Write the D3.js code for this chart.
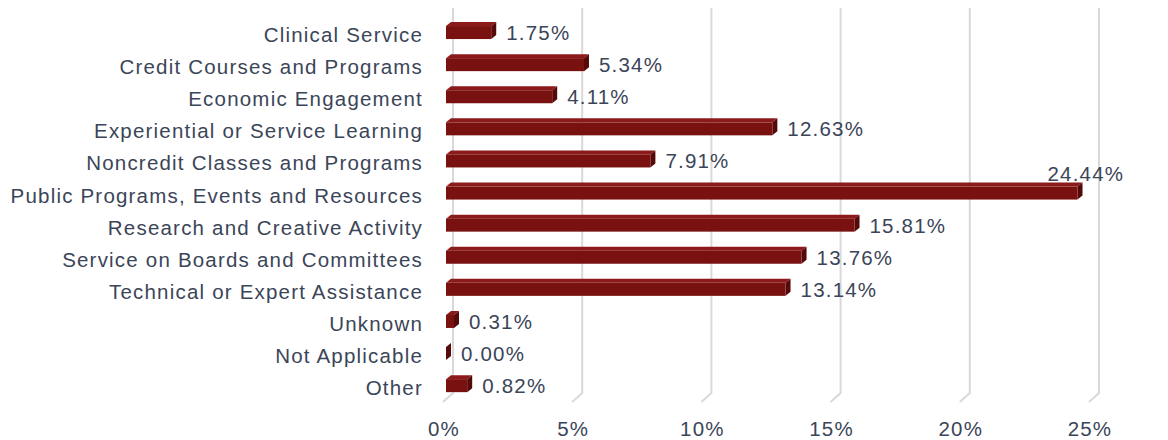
<!DOCTYPE html>
<html lang="en">
<head>
<meta charset="utf-8">
<title>Engagement by category</title>
<script src="https://cdn.jsdelivr.net/npm/d3@7"></script>
<style>
    body { margin: 0; background: #fff; }
    text { font-family: "Liberation Sans", Arial, sans-serif; fill: #3b4558; letter-spacing: 1.2px; }
    .grid { stroke: #d9d9d9; stroke-width: 2; fill: none; }
</style>
</head>
<body>
<svg id="chart" width="1168" height="440"></svg>
<script>
// data
var categories = ["Clinical Service", "Credit Courses and Programs", "Economic Engagement",
    "Experiential or Service Learning", "Noncredit Classes and Programs",
    "Public Programs, Events and Resources", "Research and Creative Activity",
    "Service on Boards and Committees", "Technical or Expert Assistance",
    "Unknown", "Not Applicable", "Other"]
var values = [1.75, 5.34, 4.11, 12.63, 7.91, 24.44, 15.81, 13.76, 13.14, 0.31, 0.00, 0.82]
var ticks = [0, 5, 10, 15, 20, 25]

var svg = d3.select("#chart")
var fs = 20.5

// front floor edge, the back wall sits up and to the right of it
var x = d3.scaleLinear().domain([0, 25]).range([443, 1089])
var y = d3.scaleBand().domain(categories).range([14.5, 399.7])
var floorY = 402
var back = {dx: 10, dy: -9}
var bar = {x0: 3, dx: 5, dy: -4, h: 13}

// gridlines on the back wall with a jog down across the floor
svg.append("g").selectAll("path")
    .data(ticks)
    .enter().append("path")
    .attr("class", "grid")
    .attr("d", function (d) {
        var xb = x(d) + back.dx
        return "M" + xb + ",8 L" + xb + "," + (floorY + back.dy) + " L" + x(d) + "," + floorY
    })

// tick labels
svg.append("g").selectAll("text")
    .data(ticks)
    .enter().append("text")
    .attr("x", function (d) { return x(d) + 1 })
    .attr("y", 428)
    .attr("text-anchor", "middle")
    .attr("dominant-baseline", "central")
    .attr("font-size", fs)
    .text(function (d) { return d + "%" })

// category labels
svg.append("g").selectAll("text")
    .data(categories)
    .enter().append("text")
    .attr("x", 423)
    .attr("y", function (d) { return y(d) + y.bandwidth() / 2 + 4 })
    .attr("text-anchor", "end")
    .attr("dominant-baseline", "central")
    .attr("font-size", fs)
    .text(function (d) { return d })

// 3d bars: front, top and right side
var bars = svg.append("g").selectAll("g")
    .data(values)
    .enter().append("g")

function frontTop(i) { return y(categories[i]) + y.bandwidth() / 2 - 4.5 }

bars.append("path")
    .attr("fill", "#8c1a1a")
    .attr("d", function (d, i) {
        var x0 = x(0) + bar.x0, x1 = x(d) + bar.x0, t = frontTop(i)
        return "M" + x0 + "," + t + " L" + (x0 + bar.dx) + "," + (t + bar.dy) +
            " L" + (x1 + bar.dx) + "," + (t + bar.dy) + " L" + x1 + "," + t + "Z"
    })

bars.append("path")
    .attr("fill", "#560909")
    .attr("d", function (d, i) {
        var x1 = x(d) + bar.x0, t = frontTop(i)
        return "M" + x1 + "," + t + " L" + (x1 + bar.dx) + "," + (t + bar.dy) +
            " L" + (x1 + bar.dx) + "," + (t + bar.dy + bar.h) + " L" + x1 + "," + (t + bar.h) + "Z"
    })

bars.append("rect")
    .attr("fill", "#7a1111")
    .attr("x", x(0) + bar.x0)
    .attr("y", function (d, i) { return frontTop(i) })
    .attr("width", function (d) { return Math.max(x(d) - x(0), 0) })
    .attr("height", bar.h)

// value labels, the longest one sits above its bar
bars.append("text")
    .attr("font-size", fs)
    .attr("dominant-baseline", "central")
    .attr("x", function (d) {
        var xe = x(d) + bar.x0 + bar.dx
        return xe + 10 > 1040 ? xe - 35 : xe + 10
    })
    .attr("y", function (d, i) {
        var c = y(categories[i]) + y.bandwidth() / 2 + 2
        return x(d) + 15 > 1040 ? c - 20 : c
    })
    .text(function (d) { return d.toFixed(2) + "%" })
</script>
</body>
</html>
